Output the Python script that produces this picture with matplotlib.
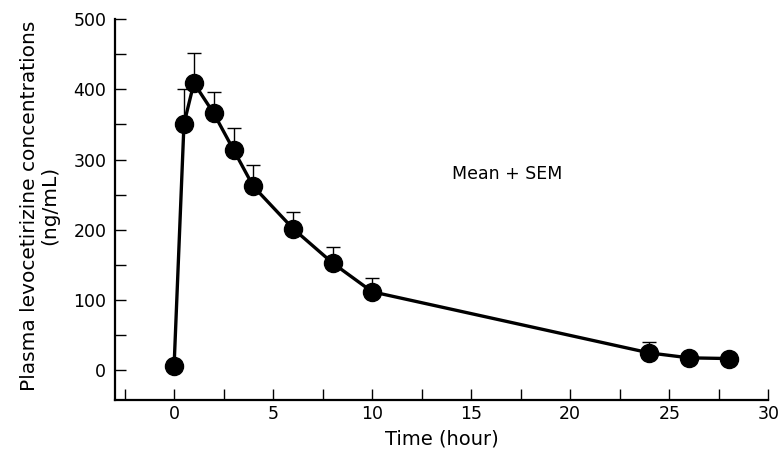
import matplotlib.pyplot as plt
from matplotlib.ticker import MultipleLocator

# data
time_h = [0, 0.5, 1, 2, 3, 4, 6, 8, 10, 24, 26, 28]
conc_mean = [6, 351, 409, 366, 314, 262, 202, 153, 112, 25, 18, 17]
conc_upper = [6, 400, 451, 396, 345, 293, 225, 175, 132, 41, 21, 19]
sem = [u - m for u, m in zip(conc_upper, conc_mean)]

plt.rcParams['font.family'] = ['DejaVu Sans']

fig = plt.figure(figsize=(7.8, 4.59), dpi=100)
ax = fig.add_axes([0.147, 0.1285, 0.838, 0.83])

# error bars (upper only)
ax.errorbar(time_h, conc_mean, yerr=[[0] * len(sem), sem], fmt='none',
            ecolor='black', elinewidth=1.0, capsize=5, capthick=1.0, zorder=2)
ax.plot(time_h, conc_mean, color='black', linewidth=2.4, marker='o',
        markersize=13, markerfacecolor='black', zorder=3)

ax.text(16.8, 280, 'Mean + SEM', ha='center', va='center', fontsize=12.5)

ax.set_xlim(-3, 30)
ax.set_ylim(-42, 500)
ax.xaxis.set_major_locator(MultipleLocator(5))
ax.xaxis.set_minor_locator(MultipleLocator(2.5))
ax.yaxis.set_major_locator(MultipleLocator(100))
ax.yaxis.set_minor_locator(MultipleLocator(50))
ax.tick_params(which='both', direction='in', width=1.0, length=8, labelsize=12.5)
ax.tick_params(axis='y', pad=6)

for side in ['top', 'right']:
    ax.spines[side].set_visible(False)
for side in ['left', 'bottom']:
    ax.spines[side].set_linewidth(1.6)

ax.set_xlabel('Time (hour)', fontsize=14, labelpad=5)
ax.set_ylabel('Plasma levocetirizine concentrations\n(ng/mL)', fontsize=14.5,
              linespacing=1.05)
ax.yaxis.set_label_coords(-0.085, 0.51)

plt.savefig('out.png', dpi=100)
